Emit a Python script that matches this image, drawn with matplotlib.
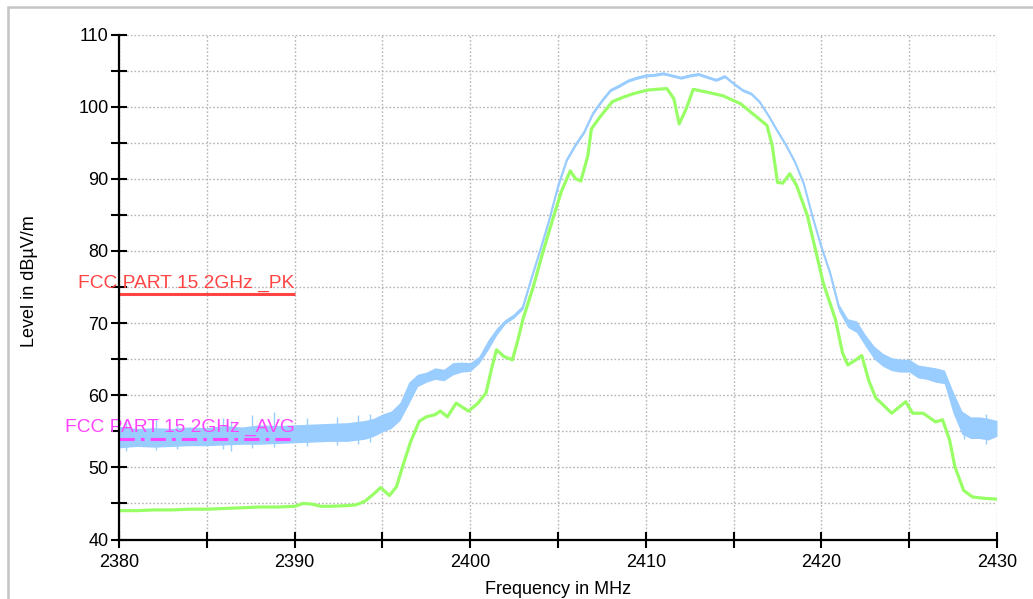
import matplotlib
matplotlib.use("Agg")
import matplotlib.pyplot as plt
from matplotlib.patches import Rectangle
import numpy as np

# ---------------- data ----------------
pk_freq = [2380, 2381, 2382, 2383, 2384, 2385, 2386, 2387, 2388, 2389, 2390,
           2391, 2392, 2393, 2394, 2394.5, 2395, 2395.5, 2396, 2396.5, 2397,
           2397.5, 2398, 2398.5, 2399, 2399.5, 2400, 2400.5, 2401, 2401.5,
           2402, 2402.5, 2403, 2403.5, 2404, 2404.5, 2405, 2405.5, 2406,
           2406.5, 2407, 2407.5, 2408, 2408.5, 2409, 2409.5, 2410, 2410.5,
           2411, 2411.5, 2412, 2412.5, 2413, 2413.5, 2414, 2414.5, 2415,
           2415.5, 2416, 2416.5, 2417, 2417.5, 2418, 2418.5, 2419, 2419.5,
           2420, 2420.5, 2421, 2421.5, 2422, 2422.5, 2423, 2423.5, 2424,
           2424.5, 2425, 2425.5, 2426, 2426.5, 2427, 2427.5, 2428, 2428.5,
           2429, 2429.5, 2430]
pk_hi = [55.7, 55.4, 55.5, 55.4, 55.6, 55.5, 55.8, 55.6, 55.9, 55.8, 55.9,
         56.0, 56.1, 56.2, 56.5, 56.8, 57.4, 57.8, 59.0, 61.8, 62.9,
         63.2, 63.8, 63.6, 64.5, 64.6, 64.5, 65.4, 67.6, 69.3,
         70.5, 71.3, 72.5, 76.5, 80.4, 84.5, 89.1, 92.8, 94.9,
         96.7, 99.3, 101.0, 102.5, 103.1, 103.8, 104.2, 104.5, 104.6,
         104.8, 104.5, 104.2, 104.5, 104.7, 104.3, 103.9, 104.4, 103.4,
         102.5, 102.0, 100.8, 98.9, 96.8, 94.8, 92.5, 89.5, 84.9,
         80.8, 77.2, 72.6, 70.6, 70.3, 68.4, 66.8, 65.8, 65.2,
         65.0, 65.0, 64.2, 64.0, 63.8, 63.5, 60.5, 57.8, 57.0,
         57.0, 56.8, 56.5]
pk_lo = [52.7, 52.9, 52.8, 52.9, 53.0, 53.0, 53.1, 53.2, 53.2, 53.3, 53.4,
         53.5, 53.6, 53.6, 53.9, 54.3, 54.9, 55.4, 56.5, 58.8, 61.2,
         61.8, 62.2, 62.0, 62.8, 63.2, 63.3, 64.4, 66.2, 68.3,
         69.9, 70.7, 71.9, 76.1, 80.0, 84.1, 88.7, 92.4, 94.5,
         96.3, 98.9, 100.6, 102.1, 102.7, 103.4, 103.8, 104.1, 104.2,
         104.4, 104.1, 103.8, 104.1, 104.3, 103.9, 103.5, 104.0, 103.0,
         102.1, 101.6, 100.4, 98.5, 96.4, 94.4, 92.1, 89.1, 84.5,
         80.3, 76.6, 71.6, 69.4, 68.7, 66.8, 65.0, 64.0, 63.4,
         63.2, 63.2, 62.4, 62.2, 61.8, 61.6, 57.5, 54.6, 54.0,
         54.0, 53.8, 54.3]
# a few visible noise spikes on the peak trace (frequency, top, bottom)
pk_spike_freq = [2380.4, 2382.1, 2383.3, 2385.9, 2386.4, 2387.6, 2388.8,
                 2390.7, 2392.4, 2393.6, 2394.3, 2428.1, 2429.4]
pk_spike_top = [56.3, 56.5, 56.0, 56.8, 56.4, 57.3, 57.7, 56.8, 57.0, 57.2,
                57.4, 57.6, 57.4]
pk_spike_bot = [52.2, 52.4, 52.5, 52.6, 52.3, 52.7, 52.8, 53.0, 53.1, 53.2,
                53.5, 53.9, 53.3]

avg_freq = [2380, 2381, 2382, 2383, 2384, 2385, 2386, 2387, 2388, 2389, 2390,
            2390.5, 2391, 2391.5, 2392, 2393, 2393.5, 2394, 2394.5, 2394.9,
            2395.4, 2395.8, 2396.2, 2396.6, 2397.1, 2397.5, 2398.0, 2398.3,
            2398.7, 2399.2, 2399.9, 2400.4, 2400.9, 2401.2, 2401.5, 2401.9,
            2402.4, 2402.7, 2403.0, 2403.6, 2404.1, 2404.7, 2405.2, 2405.7,
            2406.0, 2406.3, 2406.7, 2406.9, 2407.4, 2408.1, 2408.7, 2409.3,
            2410.1, 2410.6, 2411.2, 2411.6, 2411.9, 2412.3, 2412.7, 2413.5,
            2414.4, 2415.4, 2416.1, 2416.9, 2417.2, 2417.5, 2417.8, 2418.2,
            2418.6, 2419.2, 2419.7, 2420.1, 2420.8, 2421.2, 2421.5, 2421.9,
            2422.3, 2422.7, 2423.1, 2423.5, 2424.0, 2424.4, 2424.8, 2425.2,
            2425.8, 2426.5, 2426.9, 2427.3, 2427.6, 2428.1, 2428.6, 2429.3,
            2430]
avg_level = [44.0, 44.0, 44.1, 44.1, 44.2, 44.2, 44.3, 44.4, 44.5, 44.5, 44.6,
             45.0, 44.9, 44.6, 44.6, 44.7, 44.8, 45.3, 46.3, 47.2,
             46.1, 47.3, 50.5, 53.5, 56.4, 57.0, 57.3, 57.8,
             57.0, 58.9, 57.8, 58.8, 60.3, 63.5, 66.3, 65.4,
             64.9, 67.5, 70.5, 75.1, 79.5, 84.4, 88.3, 91.1,
             90.0, 89.7, 93.2, 96.9, 98.6, 100.7, 101.3, 101.8,
             102.3, 102.4, 102.5, 101.1, 97.6, 99.7, 102.4, 102.0,
             101.5, 100.4, 99.0, 97.4, 94.6, 89.5, 89.4, 90.7,
             89.0, 84.9, 79.8, 75.6, 70.5, 65.9, 64.2, 64.8,
             65.5, 62.0, 59.6, 58.7, 57.5, 58.3, 59.1, 57.5,
             57.5, 56.3, 56.6, 53.8, 50.1, 46.8, 45.9, 45.7,
             45.6]

limit_freq = [2380, 2390]
limit_pk = [74, 74]
limit_avg = [54, 54]
limit_pk_label = "FCC PART 15 2GHz _PK"
limit_avg_label = "FCC PART 15 2GHz _AVG"

x_ticks = [2380, 2390, 2400, 2410, 2420, 2430]
y_ticks = [40, 50, 60, 70, 80, 90, 100, 110]
x_label = "Frequency in MHz"
y_label = "Level in dB\u00b5V/m"

# ---------------- styling ----------------
plt.rcParams['font.family'] = ['Liberation Sans', 'DejaVu Sans']
BLUE = '#99ccff'
GREEN = '#99ff66'
RED = '#ff4444'
MAGENTA = '#ff44ff'

W, H = 1033, 599
fig = plt.figure(figsize=(W / 100, H / 100), dpi=100)
ax = fig.add_axes([119 / W, 1 - 539.5 / H, (997 - 119) / W, (539.5 - 34.5) / H])

# figure frame
fig.patches.append(Rectangle((8 / W, -0.05), 1.1, 1 - 7 / H + 0.05,
                             transform=fig.transFigure, fill=False,
                             edgecolor='#c4c4c4', linewidth=1.8, zorder=0))

ax.set_xlim(2380, 2430)
ax.set_ylim(40, 110)

# peak trace (noisy band)
ax.fill_between(pk_freq, pk_lo, pk_hi, color=BLUE, linewidth=0, zorder=3)
pk_mid = [(a + b) / 2 for a, b in zip(pk_lo, pk_hi)]
ax.plot(pk_freq, pk_mid, color=BLUE, lw=1.5, zorder=3)
ax.vlines(pk_spike_freq, pk_spike_bot, pk_spike_top, color=BLUE, lw=1.0, zorder=3)

# average trace
ax.plot(avg_freq, avg_level, color=GREEN, lw=2.3, zorder=4)

# limit lines
ax.plot(limit_freq, limit_pk, color=RED, lw=2.2, zorder=5, solid_capstyle='butt')
ax.plot(limit_freq, limit_avg, color=MAGENTA, lw=2.2, zorder=5,
        linestyle=(0, (5, 2, 1.2, 2)))
ax.text(2390, 74.35, limit_pk_label, color=RED, fontsize=13.8, ha='right',
        va='bottom', clip_on=False, zorder=6)
ax.text(2390, 54.4, limit_avg_label, color=MAGENTA, fontsize=13.8, ha='right',
        va='bottom', clip_on=False, zorder=6)

# ticks and grid
ax.set_xticks(x_ticks)
ax.set_xticks(np.arange(2385, 2430, 10), minor=True)
ax.set_yticks(y_ticks)
ax.set_yticks(np.arange(45, 110, 10), minor=True)
ax.tick_params(which='both', direction='inout', length=11, width=1.5,
               color='black', labelsize=13)
ax.tick_params(axis='y', which='both', pad=2)
ax.tick_params(axis='x', which='both', pad=5)
ax.grid(which='both', color='#b4b4b4', linestyle=(0, (1.2, 1.5)), linewidth=1.0)
ax.set_axisbelow(True)
for s in ['top', 'right']:
    ax.spines[s].set_visible(False)
for s in ['left', 'bottom']:
    ax.spines[s].set_linewidth(1.6)
    ax.spines[s].set_zorder(7)

fig.text(30 / W, 1 - 281 / H, y_label, rotation=90, ha='center', va='center',
         fontsize=13)
fig.text(558 / W, 1 - 589 / H, x_label, ha='center', va='center', fontsize=13)

fig.savefig('out.png', dpi=100)
